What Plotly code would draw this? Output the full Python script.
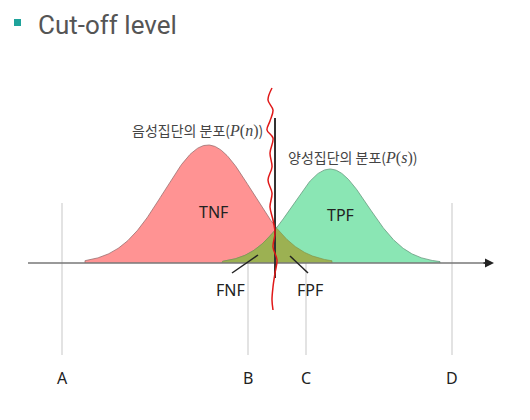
import numpy as np
import plotly.graph_objects as go

# ---- data (diagram units = pixels of the 530x420 canvas) ----
baseline = 263
neg_mean, neg_sd, neg_peak, neg_lo, neg_hi = 208, 44, 118, 85, 332
pos_mean, pos_sd, pos_peak, pos_lo, pos_hi = 330, 38, 94, 222, 440

cut_x = 275
cut_top, cut_bottom = 118, 278

wave_x = [272, 268, 273, 270, 267, 273, 270, 272, 268, 272, 270, 273, 275, 273, 277, 275, 273, 272, 273]
wave_y = [88, 100, 110, 121, 130, 138, 153, 167, 180, 193, 207, 220, 233, 247, 260, 273, 287, 300, 310]

level_names = ["A", "B", "C", "D"]
level_x = [62, 248, 306, 452]
level_top, level_bottom = 203, 355

axis_start, axis_end = 28, 494

def curve(mean, sd, peak, lo, hi):
    xs = np.linspace(lo, hi, 300)
    return xs, peak * np.exp(-0.5 * ((xs - mean) / sd) ** 2)

nx, nh = curve(neg_mean, neg_sd, neg_peak, neg_lo, neg_hi)
px_, ph = curve(pos_mean, pos_sd, pos_peak, pos_lo, pos_hi)

ox = np.linspace(pos_lo, neg_hi, 300)
oh = np.minimum(neg_peak * np.exp(-0.5 * ((ox - neg_mean) / neg_sd) ** 2),
                pos_peak * np.exp(-0.5 * ((ox - pos_mean) / pos_sd) ** 2))

def area(xs, hs):
    X = np.concatenate([[xs[0]], xs, [xs[-1]]])
    Y = np.concatenate([[baseline], baseline - hs, [baseline]])
    return X, Y

fig = go.Figure()

# gray level lines
for lx in level_x:
    fig.add_trace(go.Scatter(x=[lx, lx], y=[level_top, level_bottom], mode="lines",
                             line=dict(color="#d0d0d0", width=1.2), hoverinfo="skip"))

X, Y = area(nx, nh)
fig.add_trace(go.Scatter(x=X, y=Y, mode="lines", fill="toself", fillcolor="#FF9393",
                         line=dict(color="#9a7070", width=0.8), hoverinfo="skip"))
X, Y = area(px_, ph)
fig.add_trace(go.Scatter(x=X, y=Y, mode="lines", fill="toself", fillcolor="#8AE6B4",
                         line=dict(color="#6a9a80", width=0.8), hoverinfo="skip"))
X, Y = area(ox, oh)
fig.add_trace(go.Scatter(x=X, y=Y, mode="lines", fill="toself", fillcolor="#9CB152",
                         line=dict(color="#7f8f45", width=0.6), hoverinfo="skip"))

# axis
fig.add_trace(go.Scatter(x=[axis_start, axis_end - 4], y=[baseline, baseline], mode="lines",
                         line=dict(color="#777777", width=1.5), hoverinfo="skip"))
fig.add_annotation(x=axis_end, y=baseline, ax=axis_end - 12, ay=baseline, axref="x", ayref="y",
                   xref="x", yref="y", text="", showarrow=True, arrowhead=2, arrowsize=1.2,
                   arrowwidth=1.5, arrowcolor="#222222")

# cut-off line and wavy line
fig.add_trace(go.Scatter(x=[cut_x, cut_x], y=[cut_top, cut_bottom], mode="lines",
                         line=dict(color="#333333", width=2), hoverinfo="skip"))
fig.add_trace(go.Scatter(x=wave_x, y=wave_y, mode="lines", line=dict(color="#E01818", width=1.5, shape="spline"),
                         hoverinfo="skip"))

# pointer lines for FNF / FPF
fig.add_trace(go.Scatter(x=[232, 258], y=[273, 255], mode="lines", line=dict(color="#222", width=1.5), hoverinfo="skip"))
fig.add_trace(go.Scatter(x=[308, 290], y=[273, 256], mode="lines", line=dict(color="#222", width=1.5), hoverinfo="skip"))

kfont = "Noto Sans CJK KR"
math = '<span style="font-family:Liberation Serif;font-size:16px"><i>P</i>(<i>{}</i>)</span>'
fig.add_annotation(x=197, y=130, text="음성집단의 분포(" + math.format("n") + ")", showarrow=False,
                   font=dict(family=kfont, size=14, color="#444"))
fig.add_annotation(x=352, y=157, text="양성집단의 분포(" + math.format("s") + ")", showarrow=False,
                   font=dict(family=kfont, size=14, color="#444"))

for t, x, y in [("TNF", 213, 212), ("TPF", 340, 215), ("FNF", 230, 290), ("FPF", 310, 290)]:
    fig.add_annotation(x=x, y=y, text=t, showarrow=False, font=dict(family="Noto Sans", size=16, color="#222"))

for n, lx in zip(level_names, level_x):
    fig.add_annotation(x=lx, y=378, text=n, showarrow=False, font=dict(family="Noto Sans", size=16, color="#222"))

# title
fig.add_shape(type="rect", x0=14, x1=21, y0=19, y1=26, xref="x", yref="y", fillcolor="#1FA39B", line=dict(width=0))
fig.add_annotation(x=36, y=25, text="Cut-off level", xanchor="left", showarrow=False,
                   font=dict(family="Roboto", size=26, color="#555"))

# the page body adds an 8px offset; shift the ranges so canvas pixels line up
off = 8
fig.update_layout(width=530, height=420, margin=dict(l=0, r=0, t=0, b=0),
                  paper_bgcolor="white", plot_bgcolor="white", showlegend=False)
fig.update_xaxes(range=[off, 530 + off], visible=False, fixedrange=True)
fig.update_yaxes(range=[420 + off, off], visible=False, fixedrange=True)

fig.write_html("out.html")
